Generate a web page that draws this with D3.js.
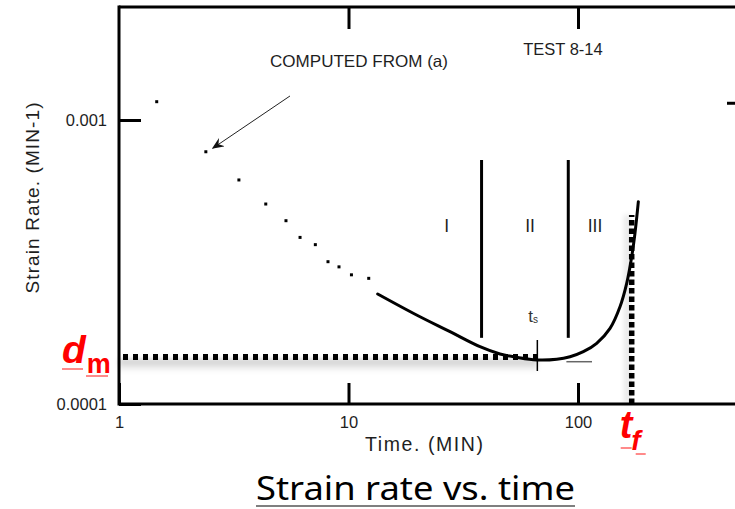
<!DOCTYPE html>
<html><head><meta charset="utf-8">
<script src="https://cdn.jsdelivr.net/npm/d3@7"></script>
<style>html,body{margin:0;padding:0;background:#fff;overflow:hidden}</style>
</head><body>
<svg id="chart" width="735" height="509" xmlns="http://www.w3.org/2000/svg"></svg>
<script>
// ---------- data ----------
const xTickValues = [1, 10, 100];
const xTickLabels = ["1", "10", "100"];
const topTickValues = [10, 100];
const yTickValues = [0.0001, 0.001];
const yTickLabels = ["0.0001", "0.001"];
const rightTickValues = [0.00115];

// strain rate computed from (a): dotted early points
const computedTime = [1.46, 2.39, 3.33, 4.36, 5.34, 6.15, 7.17, 8.14, 9.09, 10.3, 12.25];
const computedRate = [0.00116, 0.000773, 0.000615, 0.000506, 0.000442, 0.000386, 0.000364, 0.000317, 0.000304, 0.000285, 0.000277];

// measured continuous curve
const measuredTime = [13.4, 19.8, 27.7, 37.4, 45.7, 54.1, 66.1, 80.8, 92.3, 105.5, 120.6, 137.9, 152.4, 163, 171.4, 177.1, 183.2];
const measuredRate = [2.44e-4, 2.058e-4, 1.797e-4, 1.591e-4, 1.5e-4, 1.46e-4, 1.429e-4, 1.437e-4, 1.467e-4, 1.528e-4, 1.636e-4, 1.847e-4, 2.201e-4, 2.661e-4, 3.302e-4, 3.99e-4, 5.157e-4];

// creep stages
const stageBoundaries = [38.0, 90.7];
const stageBoundaryRates = [0.000171, 0.000723];
const stageLabels = ["I", "II", "III"];
const stageLabelTime = [26.8, 61.8, 118.6];
const stageLabelRate = 0.000403;

// key values
const minRate = 0.0001464;      // d_m
const secondaryTime = 66.5;     // t_s
const failureTime = 171.4;      // t_f
const failureLineTop = 0.000463;
const tangentTime = [89.0, 115.1];
const tangentRate = 1.409e-4;

// annotations
const testName = "TEST 8-14";
const testNamePos = [86.0, 0.001694];
const annotationText = "COMPUTED FROM (a)";
const annotationPos = [4.55, 0.001537];
const arrowFrom = [5.56, 0.001215];
const arrowTo = [2.56, 0.000795];
const xTitle = "Time. (MIN)";
const yTitle = "Strain Rate. (MIN-1)";
const chartTitle = "Strain rate vs. time";

// ---------- drawing ----------
const svg = d3.select("#chart");
const FONT = "'Liberation Sans', Arial, sans-serif";
const textColor = "#1e1e1e";

const x = d3.scaleLog().domain([1, 1000]).range([119, 119 + 229.5 * 3]);
const y = d3.scaleLog().domain([1e-4, 1e-3]).range([404, 120]);
const plotTop = 7, plotRight = 760;

const defs = svg.append("defs");
defs.append("filter").attr("id", "blur").attr("x", "-20%").attr("y", "-100%").attr("width", "140%").attr("height", "300%")
  .append("feGaussianBlur").attr("stdDeviation", 2.5);
const g1 = defs.append("linearGradient").attr("id", "shadeV").attr("x1", 0).attr("y1", 0).attr("x2", 0).attr("y2", 1);
g1.append("stop").attr("offset", "0%").attr("stop-color", "#000").attr("stop-opacity", 0.22);
g1.append("stop").attr("offset", "100%").attr("stop-color", "#000").attr("stop-opacity", 0);
const g2 = defs.append("linearGradient").attr("id", "shadeH").attr("x1", 1).attr("y1", 0).attr("x2", 0).attr("y2", 0);
g2.append("stop").attr("offset", "0%").attr("stop-color", "#000").attr("stop-opacity", 0.15);
g2.append("stop").attr("offset", "100%").attr("stop-color", "#000").attr("stop-opacity", 0);
defs.append("marker").attr("id", "arrow").attr("viewBox", "0 0 12 10").attr("refX", 11).attr("refY", 5)
  .attr("markerWidth", 12).attr("markerHeight", 10).attr("markerUnits", "userSpaceOnUse").attr("orient", "auto")
  .append("path").attr("d", "M0,0 L12,5 L0,10 L4,5 Z").attr("fill", "#111");

// shadows of the dotted guide lines
svg.append("rect")
  .attr("x", x(1)).attr("y", y(minRate) + 2)
  .attr("width", x(secondaryTime) - x(1)).attr("height", 13)
  .attr("fill", "url(#shadeV)").attr("filter", "url(#blur)");
svg.append("rect")
  .attr("x", x(failureTime) - 10).attr("y", y(failureLineTop))
  .attr("width", 8).attr("height", y(1e-4) - y(failureLineTop))
  .attr("fill", "url(#shadeH)").attr("filter", "url(#blur)");

// frame
const frame = svg.append("g").attr("stroke", "#000").attr("stroke-width", 3).attr("fill", "none");
frame.append("line").attr("x1", x(1)).attr("x2", x(1)).attr("y1", plotTop - 1.5).attr("y2", y(1e-4) + 1.5);
frame.append("line").attr("x1", x(1)).attr("x2", plotRight).attr("y1", y(1e-4)).attr("y2", y(1e-4));
frame.append("line").attr("x1", x(1)).attr("x2", plotRight).attr("y1", plotTop).attr("y2", plotTop);

function styleAxis(g) {
  g.select(".domain").remove();
  g.selectAll(".tick line").attr("stroke", "#000").attr("stroke-width", 3);
  g.selectAll(".tick text").attr("fill", textColor).style("font-family", FONT).style("font-size", "16.5px");
}

svg.append("g").attr("transform", `translate(0,${y(1e-4)})`)
  .call(d3.axisBottom(x).tickValues(xTickValues).tickSize(-21).tickPadding(12)
    .tickFormat((d, i) => xTickLabels[i]))
  .call(styleAxis);

svg.append("g").attr("transform", `translate(${x(1)},0)`)
  .call(d3.axisLeft(y).tickValues(yTickValues).tickSize(-22).tickPadding(12)
    .tickFormat((d, i) => yTickLabels[i]))
  .call(styleAxis);

svg.append("g").attr("transform", `translate(0,${plotTop})`)
  .call(d3.axisTop(x).tickValues(topTickValues).tickSize(-22).tickFormat(""))
  .call(styleAxis);

svg.append("g").attr("transform", `translate(749,0)`)
  .call(d3.axisRight(y).tickValues(rightTickValues).tickSize(-22).tickFormat(""))
  .call(styleAxis);

// dotted guide lines
svg.append("line")
  .attr("x1", x(1)).attr("x2", x(secondaryTime))
  .attr("y1", y(minRate)).attr("y2", y(minRate))
  .attr("stroke", "#000").attr("stroke-width", 6)
  .attr("stroke-dasharray", "5 5").attr("stroke-dashoffset", 6);
svg.append("line")
  .attr("x1", x(failureTime)).attr("x2", x(failureTime))
  .attr("y1", y(1e-4)).attr("y2", y(failureLineTop))
  .attr("stroke", "#000").attr("stroke-width", 5.5)
  .attr("stroke-dasharray", "5.5 3");

// stage boundaries
svg.append("g").selectAll("line").data(stageBoundaries).join("line")
  .attr("x1", d => x(d)).attr("x2", d => x(d))
  .attr("y1", y(stageBoundaryRates[0])).attr("y2", y(stageBoundaryRates[1]))
  .attr("stroke", "#000").attr("stroke-width", 3);

svg.append("g").selectAll("text").data(stageLabels).join("text")
  .attr("x", (d, i) => x(stageLabelTime[i])).attr("y", y(stageLabelRate))
  .attr("text-anchor", "middle").attr("fill", textColor)
  .style("font-family", FONT).style("font-size", "17.5px").text(d => d);

// computed points
const computed = computedTime.map((t, i) => ({ t, r: computedRate[i] }));
svg.append("g").selectAll("rect").data(computed).join("rect")
  .attr("x", d => x(d.t) - 1.5).attr("y", d => y(d.r) - 1.5)
  .attr("width", 3).attr("height", 3).attr("fill", "#000");

// measured curve
const measured = measuredTime.map((t, i) => ({ t, r: measuredRate[i] }));
svg.append("path").datum(measured)
  .attr("d", d3.line().x(d => x(d.t)).y(d => y(d.r)).curve(d3.curveCatmullRom.alpha(0.5)))
  .attr("fill", "none").attr("stroke", "#000").attr("stroke-width", 3).attr("stroke-linecap", "round");

// t_s cross and tangent segment
svg.append("line")
  .attr("x1", x(secondaryTime)).attr("x2", x(secondaryTime))
  .attr("y1", y(minRate) - 17).attr("y2", y(minRate) + 14)
  .attr("stroke", "#000").attr("stroke-width", 1.5);
svg.append("line")
  .attr("x1", x(tangentTime[0])).attr("x2", x(tangentTime[1]))
  .attr("y1", y(tangentRate)).attr("y2", y(tangentRate))
  .attr("stroke", "#666").attr("stroke-width", 1.5);

const ts = svg.append("text").attr("x", x(secondaryTime) - 9).attr("y", y(minRate) - 35)
  .attr("fill", "#333").style("font-family", FONT).style("font-size", "17px");
ts.append("tspan").text("t");
ts.append("tspan").attr("dy", 1).style("font-size", "10px").text("s");

// annotations
svg.append("text").attr("x", x(annotationPos[0])).attr("y", y(annotationPos[1]))
  .attr("fill", textColor).style("font-family", FONT).style("font-size", "16.5px")
  .attr("textLength", 178).attr("lengthAdjust", "spacingAndGlyphs").text(annotationText);
svg.append("line")
  .attr("x1", x(arrowFrom[0])).attr("y1", y(arrowFrom[1]))
  .attr("x2", x(arrowTo[0])).attr("y2", y(arrowTo[1]))
  .attr("stroke", "#222").attr("stroke-width", 1).attr("marker-end", "url(#arrow)");
svg.append("text").attr("x", x(testNamePos[0])).attr("y", y(testNamePos[1]))
  .attr("text-anchor", "middle").attr("fill", textColor)
  .style("font-family", FONT).style("font-size", "16.5px").text(testName);

// axis titles
svg.append("text").attr("x", 424).attr("y", 451).attr("text-anchor", "middle")
  .attr("fill", textColor).style("font-family", FONT).style("font-size", "19.5px")
  .attr("textLength", 118).attr("lengthAdjust", "spacing").text(xTitle);
svg.append("text").attr("transform", "translate(39,198) rotate(-90)").attr("text-anchor", "middle")
  .attr("fill", textColor).style("font-family", FONT).style("font-size", "19px")
  .attr("textLength", 191).attr("lengthAdjust", "spacing").text(yTitle);

// red labels d_m and t_f
const red = "#ff0000", pink = "#ff8a8a";
const dm = svg.append("text").attr("x", x(1) - 57).attr("y", y(minRate) + 6)
  .attr("fill", red).style("font-family", FONT);
dm.append("tspan").style("font-size", "39px").style("font-style", "italic").style("font-weight", "bold").text("d");
dm.append("tspan").attr("dy", 10).attr("dx", 1).style("font-size", "27px").style("font-weight", "bold").text("m");
svg.append("line").attr("x1", x(1) - 57).attr("x2", x(1) - 36).attr("y1", y(minRate) + 12).attr("y2", y(minRate) + 12)
  .attr("stroke", pink).attr("stroke-width", 2);
svg.append("line").attr("x1", x(1) - 33).attr("x2", x(1) - 11).attr("y1", y(minRate) + 19).attr("y2", y(minRate) + 19)
  .attr("stroke", pink).attr("stroke-width", 2);

const tf = svg.append("text").attr("x", x(failureTime) - 12).attr("y", 438)
  .attr("fill", red).style("font-family", FONT);
tf.append("tspan").style("font-size", "38px").style("font-style", "italic").style("font-weight", "bold").text("t");
tf.append("tspan").attr("dy", 12).attr("dx", -1).style("font-size", "28px").style("font-style", "italic").style("font-weight", "bold").text("f");
svg.append("line").attr("x1", x(failureTime) - 11).attr("x2", x(failureTime)).attr("y1", 448).attr("y2", 448)
  .attr("stroke", pink).attr("stroke-width", 2);
svg.append("line").attr("x1", x(failureTime) + 4).attr("x2", x(failureTime) + 14).attr("y1", 454).attr("y2", 454)
  .attr("stroke", pink).attr("stroke-width", 2);

// chart caption
svg.append("text").attr("x", 256).attr("y", 500)
  .attr("fill", "#000").style("font-family", "'Noto Sans', 'Open Sans', sans-serif").style("font-size", "33px")
  .attr("textLength", 319).attr("lengthAdjust", "spacingAndGlyphs").text(chartTitle);
svg.append("line").attr("x1", 256).attr("x2", 575).attr("y1", 506).attr("y2", 506)
  .attr("stroke", "#555").attr("stroke-width", 1.5);
</script>
</body></html>
